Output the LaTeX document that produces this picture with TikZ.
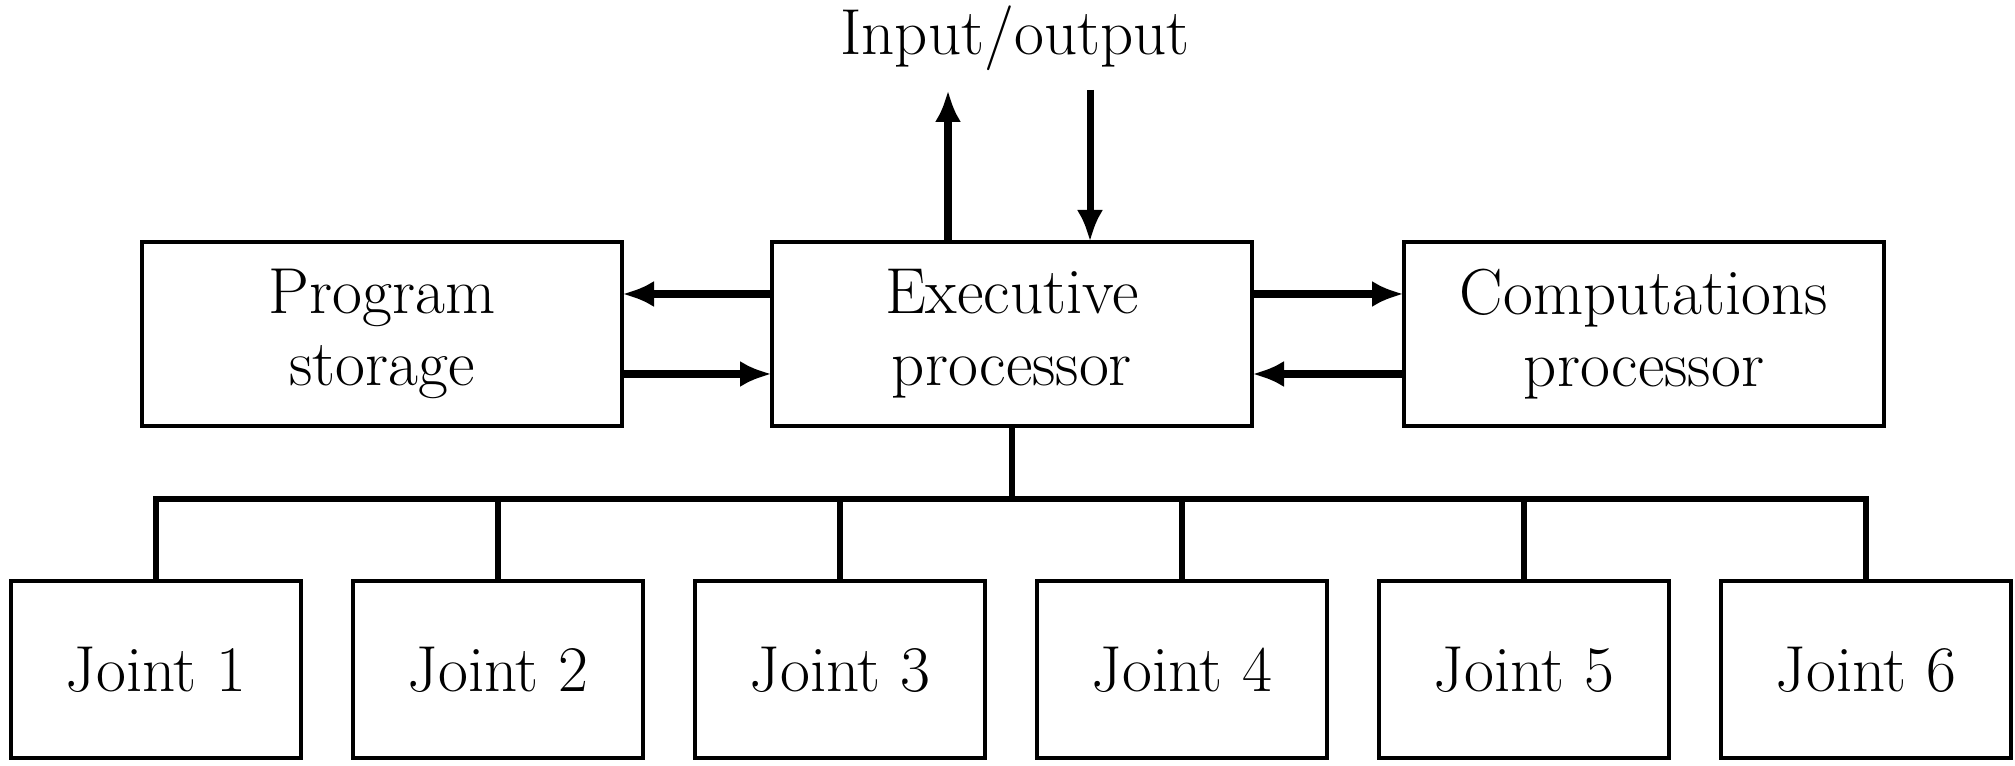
\documentclass[tikz,border=0pt]{standalone}
\usetikzlibrary{arrows.meta}

\begin{document}
\begin{tikzpicture}[every node/.style={font=\fontsize{18.5}{20.5}\selectfont, align=center, outer sep=0pt},
  box/.style={draw, line width=1.3pt, minimum width=4.8cm, minimum height=1.84cm},
  joint/.style={draw, line width=1.3pt, minimum width=2.9cm, minimum height=1.77cm},
  link/.style={line width=2pt, -{Latex[length=0.32cm,width=0.26cm]}},
  bus/.style={line width=1.7pt}]
\useasboundingbox (0,0) rectangle (20.15,7.65);

\node[box] (ps) at (3.82,4.31) {Program\\storage};
\node[box] (exec) at (10.12,4.31) {Executive\\processor};
\node[box] (comp) at (16.44,4.31) {Computations\\processor};

\node (io) at (10.15,7.27) {Input/output};
\coordinate (out) at (9.48,6.75);
\coordinate (in) at (10.90,6.75);
\draw[link] (exec.north -| out) -- (out);
\draw[link] (in) -- (in |- exec.north);

\draw[link] ([yshift=0.4cm]exec.west) -- ([yshift=0.4cm]ps.east);
\draw[link] ([yshift=-0.4cm]ps.east) -- ([yshift=-0.4cm]exec.west);
\draw[link] ([yshift=0.4cm]exec.east) -- ([yshift=0.4cm]comp.west);
\draw[link] ([yshift=-0.4cm]comp.west) -- ([yshift=-0.4cm]exec.east);

\foreach \i in {1,...,6}
  \node[joint] (j\i) at ({1.56+3.42*(\i-1)},0.955) {Joint \i};

\coordinate (bus) at (10.12,2.66);
\draw[bus] (exec.south) -- (bus);
\draw[bus] (j1.north) |- (bus) -| (j6.north);
\foreach \i in {2,...,5}
  \draw[bus] (j\i.north) -- (j\i.north |- bus);
\end{tikzpicture}
\end{document}
